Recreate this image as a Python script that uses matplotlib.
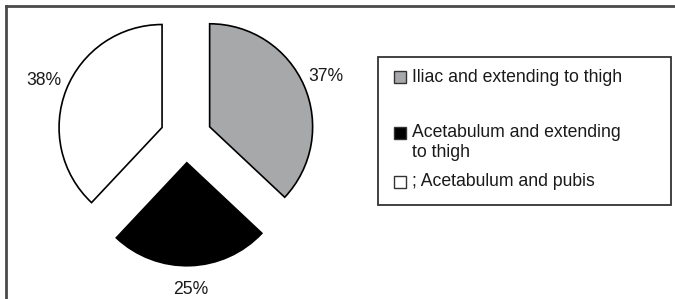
import matplotlib
matplotlib.use("Agg")
import matplotlib.pyplot as plt
from matplotlib.patches import Rectangle
from matplotlib.lines import Line2D

plt.rcParams["font.family"] = ["Liberation Sans", "DejaVu Sans"]

# data
labels = ["Iliac and extending to thigh",
          "Acetabulum and extending\nto thigh",
          "; Acetabulum and pubis"]
shares = [37, 25, 38]
colors = ["#a7a8aa", "#000000", "#ffffff"]

W, H = 675, 299
fig = plt.figure(figsize=(W / 100, H / 100), dpi=100)


def fx(x):
    return x / W


def fy(y):
    return 1 - y / H


# outer frame (only top/left visible in the original crop)
fig.add_artist(Line2D([fx(6), fx(W + 5)], [fy(6), fy(6)], transform=fig.transFigure,
                      color="#4a4a4a", lw=2))
fig.add_artist(Line2D([fx(6), fx(6)], [fy(6), fy(H + 5)], transform=fig.transFigure,
                      color="#4a4a4a", lw=2))

# pie: centre at (186,137) px, radius 103 px
cx, cy, r = 186, 137, 103
span = 1.5 * r
ax = fig.add_axes([fx(cx - span), fy(cy + span), 2 * span / W, 2 * span / H])
wedges, texts, autotexts = ax.pie(
    shares, colors=colors, startangle=90, counterclock=False,
    explode=[0.25] * 3, autopct="%1.0f%%", pctdistance=1.23,
    wedgeprops={"edgecolor": "black", "linewidth": 1.2},
    textprops={"fontsize": 12.7, "color": "#1a1a1a"})
ax.set_xlim(-1.5, 1.5)
ax.set_ylim(-1.5, 1.5)
ax.set_aspect("equal")
ax.axis("off")

# legend drawn by hand (uneven row spacing in the original)
fig.add_artist(Rectangle((fx(378), fy(205)), fx(671 - 378), (205 - 57) / H,
                         transform=fig.transFigure, fill=False,
                         edgecolor="#333333", lw=1.3))
rows_y = [77, 132.5, 181.5]
for lab, col, y in zip(labels, colors, rows_y):
    fig.add_artist(Rectangle((fx(394), fy(y + 6)), 12 / W, 12 / H,
                             transform=fig.transFigure, facecolor=col,
                             edgecolor="#333333", lw=1))
    fig.text(fx(412), fy(y), lab.split("\n")[0], fontsize=12.7, va="center",
             ha="left", color="#1a1a1a")
    if "\n" in lab:
        fig.text(fx(412), fy(y + 20), lab.split("\n")[1], fontsize=12.7,
                 va="center", ha="left", color="#1a1a1a")

fig.savefig("out.png", dpi=100)
